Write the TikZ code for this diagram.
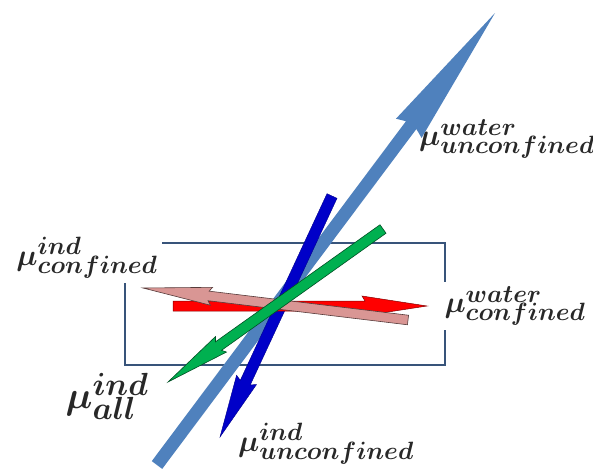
\RequirePackage{fix-cm}
\documentclass[tikz,border=0pt]{standalone}
\usepackage{bm}
\usetikzlibrary{calc}
\DeclareMathSizes{30}{30}{25}{20}
\DeclareMathSizes{38}{38}{32}{25}
\definecolor{sky}{RGB}{79,129,189}
\definecolor{navy}{RGB}{0,0,200}
\definecolor{leaf}{RGB}{0,176,80}
\definecolor{rose}{RGB}{217,150,148}
\definecolor{frame}{RGB}{56,84,122}
\definecolor{ink}{RGB}{40,40,40}
% block arrow: style, tail, tip, half shaft, head length, half head, notch
\newcommand{\blockarrow}[7]{%
  \coordinate (ba) at ($(#3)!#5!(#2)$);
  \coordinate (bb) at ($(#3)!#5+#7!(#2)$);
  \path[#1] ($(#2)!#4!90:(#3)$) -- ($(ba)!#4!-90:(#2)$) -- ($(bb)!#6!-90:(#2)$)
    -- (#3) -- ($(bb)!#6!90:(#2)$) -- ($(ba)!#4!90:(#2)$) -- ($(#2)!#4!-90:(#3)$) -- cycle;}
\newcommand{\mulbl}[2]{$\bm{\mu}^{\bm{#1}}_{\bm{#2}}$}
\begin{document}
\begin{tikzpicture}[x=1pt,y=-1pt,
  lbl/.style={fill=white,text=ink,inner sep=4pt,font=\fontsize{30}{32}\selectfont},
  biglbl/.style={lbl,font=\fontsize{38}{40}\selectfont}]
  \useasboundingbox[fill=white] (0,0) rectangle (593,471);
  \draw[frame,line width=1.8pt] (125,243) rectangle (445,365);
  % labels
  \node[lbl] (wu) at (507,139) {\mulbl{water}{unconfined}};
  \node[lbl] (ic) at (87,258) {\mulbl{ind}{confined}};
  \node[lbl] (wc) at (515,306) {\mulbl{water}{confined}};
  \node[biglbl] (ia) at (107,396) {\mulbl{ind}{all}};
  \node[lbl] (iu) at (326,444) {\mulbl{ind}{unconfined}};
  % arrow ends
  \coordinate (skyT) at (157,465);  \coordinate (skyP) at (495,13);
  \coordinate (navyT) at (332,196); \coordinate (navyP) at (220,437);
  \coordinate (redT) at (173,306);  \coordinate (redP) at (427,306);
  \coordinate (roseT) at (408,320); \coordinate (roseP) at (143,288);
  \coordinate (leafT) at (383,229); \coordinate (leafP) at (168,382);
  \blockarrow{fill=sky}{skyT}{skyP}{6.5pt}{140pt}{16pt}{4pt}
  \blockarrow{fill=navy,draw=navy!70!black,line width=0.4pt}{navyT}{navyP}{5.5pt}{60pt}{11pt}{3pt}
  \blockarrow{fill=red,draw=red!50!black,line width=0.5pt}{redT}{redP}{5pt}{62pt}{10pt}{3pt}
  \blockarrow{fill=rose,draw=rose!40!black,line width=0.6pt}{roseT}{roseP}{4.8pt}{66pt}{9pt}{3pt}
  \blockarrow{fill=leaf,draw=leaf!45!black,line width=0.6pt}{leafT}{leafP}{5.2pt}{62pt}{9.5pt}{3pt}
\end{tikzpicture}
\end{document}
